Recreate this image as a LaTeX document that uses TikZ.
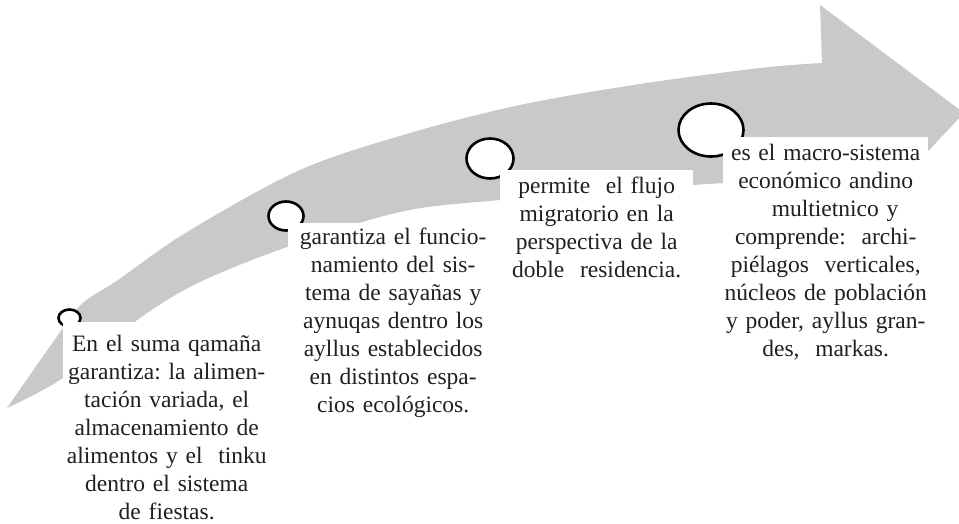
\documentclass[tikz,border=0pt]{standalone}
\usepackage{fontspec}
\setmainfont{Liberation Serif}
\usetikzlibrary{shapes.geometric}
\definecolor{arrowgrey}{RGB}{201,201,201}
\definecolor{inkc}{RGB}{35,31,32}
\frenchspacing
\begin{document}
\begin{tikzpicture}[x=1pt,y=-1pt,
  ring/.style={ellipse, draw=black, line width=2.6pt, fill=white, inner sep=0pt},
  textbox/.style={fill=white, anchor=north west, inner xsep=0pt, align=center,
    text=inkc, font=\fontsize{23.5}{28}\selectfont}]
\useasboundingbox (0,0) rectangle (959,523);
% curved arrow
\fill[arrowgrey]
  plot[smooth, tension=0.55] coordinates {(7,408) (63,328) (84,302) (118,280) (187,232) (300,170) (410,133) (520,105) (640,84) (760,68) (822,63)}
  -- (820,5) -- (964,113) -- (868,215) -- (823,178)
  -- plot[smooth, tension=0.55] coordinates {(823,178) (693,185) (500,200) (400,212) (290,246) (200,282) (140,318) (63,378) (7,408)}
  -- cycle;
% rings
\node[ring, minimum width=22pt, minimum height=17pt] (c1) at (69.5,318) {};
\node[ring, minimum width=35pt, minimum height=29pt] (c2) at (286,216) {};
\node[ring, minimum width=47pt, minimum height=40pt] (c3) at (490,158.5) {};
\node[ring, minimum width=65pt, minimum height=53pt] (c4) at (711,130) {};
% text boxes
\node[textbox, text width=207pt, inner ysep=9pt] (b1) at (63,322)
  {\rule{0pt}{20pt}En el suma qamaña\\garantiza: la alimen-\\tación variada, el\\almacenamiento de\\alimentos y el\ \ tinku\\dentro el sistema\\de fiestas.};
\node[textbox, text width=210pt, inner ysep=1pt] (b2) at (288,223)
  {\rule{0pt}{20pt}garantiza el funcio-\\namiento del sis-\\tema de sayañas y\\aynuqas dentro los\\ayllus establecidos\\en distintos espa-\\cios ecológicos.};
\node[textbox, text width=193pt, inner ysep=3pt] (b3) at (500,170)
  {\rule{0pt}{20pt}permite\ \ el flujo\\migratorio en la\\perspectiva de la\\doble\ \ residencia.};
\node[textbox, text width=205pt, inner ysep=3pt] (b4) at (723,137)
  {\rule{0pt}{20pt}es el macro-sistema\\económico andino\\\hspace*{0.8em}multietnico y\\comprende:\ \ archi-\\piélagos\ \ verticales,\\núcleos de población\\y poder, ayllus gran-\\des,\ \ markas.};
\end{tikzpicture}
\end{document}
